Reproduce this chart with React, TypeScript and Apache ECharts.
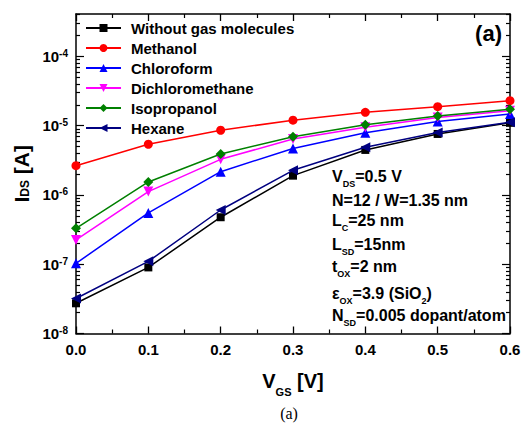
import { useEffect, useRef } from "react";
import * as echarts from "echarts";

const vgs = [0, 0.1, 0.2, 0.3, 0.4, 0.5, 0.6];
const withoutGas = [2.73e-8, 9.0e-8, 4.77e-7, 1.9e-6, 4.47e-6, 7.6e-6, 1.1e-5];
const methanol = [2.65e-6, 5.4e-6, 8.6e-6, 1.2e-5, 1.56e-5, 1.88e-5, 2.3e-5];
const chloroform = [1.03e-7, 5.5e-7, 2.17e-6, 4.7e-6, 7.9e-6, 1.15e-5, 1.48e-5];
const dichloromethane = [2.24e-7, 1.12e-6, 3.27e-6, 6.44e-6, 9.5e-6, 1.31e-5, 1.65e-5];
const isopropanol = [3.3e-7, 1.54e-6, 3.9e-6, 6.95e-6, 1.03e-5, 1.38e-5, 1.73e-5];
const hexane = [3.2e-8, 1.1e-7, 6.07e-7, 2.27e-6, 4.89e-6, 8.0e-6, 1.12e-5];

const seriesNames = [
  "Without gas molecules",
  "Methanol",
  "Chloroform",
  "Dichloromethane",
  "Isopropanol",
  "Hexane",
];
const seriesValues = [withoutGas, methanol, chloroform, dichloromethane, isopropanol, hexane];
const seriesColors = ["#000000", "#ff0000", "#0000ff", "#ff00ff", "#008000", "#000080"];
const seriesSymbols = ["rect", "circle", "triangle", "triangle", "diamond", "triangle"];
const seriesSymbolRotate = [0, 0, 0, 180, 0, 90];
const seriesSymbolSize = [8, 9, 10, 10, 10, 10];

const yMin = 1e-8;
const yMax = 4.1e-4;
const yMajorTicks = [1e-8, 1e-7, 1e-6, 1e-5, 1e-4];
const yMinorTicks: number[] = [];
for (let e = -8; e <= -4; e++) {
  for (let m = 2; m <= 9; m++) {
    const v = m * Math.pow(10, e);
    if (v < yMax) yMinorTicks.push(v);
  }
}

const annotationLines = [
  "{m|V}{s|DS}{m|=0.5 V}",
  "{m|N=12 / W=1.35 nm}",
  "{m|L}{s|C}{m|=25 nm}",
  "{m|L}{s|SD}{m|=15nm}",
  "{m|t}{s|OX}{m|=2 nm}",
  "{m|ε}{s|OX}{m|=3.9 (SiO}{s|2}{m|)}",
  "{m|N}{s|SD}{m|=0.005 dopant/atom}",
];
const annotationY = [176, 200.5, 220, 244.5, 266.5, 293, 315.5];

const FONT = "Liberation Sans, Arial, sans-serif";

export default function App() {
  const ref = useRef<HTMLDivElement>(null);
  useEffect(() => {
    if (!ref.current) return;
    const chart = echarts.init(ref.current, undefined, { renderer: "svg" });
    const axisLine = { show: true, lineStyle: { color: "#000", width: 1.5 } };
    const xAxisBase = {
      type: "value",
      min: 0,
      max: 0.6,
      interval: 0.1,
      axisLine,
      axisTick: { show: true, inside: true, length: 7, lineStyle: { color: "#000", width: 1.3 } },
      minorTick: { show: true, splitNumber: 2, length: 4, lineStyle: { color: "#000", width: 1.2 } },
      splitLine: { show: false },
    };
    const yAxisBase = (position: string, ticks: number[], len: number, showLine: boolean) => ({
      type: "log",
      position,
      min: yMin,
      max: yMax,
      axisLine: { ...axisLine, show: showLine },
      axisTick: {
        show: true,
        inside: true,
        length: len,
        customValues: ticks,
        lineStyle: { color: "#000", width: 1.2 },
      },
      axisLabel: { show: false },
      splitLine: { show: false },
      minorTick: { show: false },
    });
    const yMain: any = yAxisBase("left", yMajorTicks, 8, true);
    yMain.axisLabel = {
      show: true,
      customValues: yMajorTicks,
      margin: 8,
      formatter: (v: number) => `{b|10}{s|${Math.round(Math.log10(v))}}`,
      rich: {
        b: { fontFamily: FONT, fontSize: 15, fontWeight: "bold", color: "#000", lineHeight: 16 },
        s: {
          fontFamily: FONT,
          fontSize: 10,
          fontWeight: "bold",
          color: "#000",
          lineHeight: 10,
          verticalAlign: "top",
        },
      },
    };
    yMain.name = "{m|I}{s|DS}{m| [A]}";
    yMain.nameLocation = "middle";
    yMain.nameRotate = 90;
    yMain.nameGap = 43;
    yMain.nameTextStyle = {
      rich: {
        m: { fontFamily: FONT, fontSize: 21, fontWeight: "bold", color: "#000", lineHeight: 20 },
        s: {
          fontFamily: FONT,
          fontSize: 12,
          fontWeight: "bold",
          color: "#000",
          lineHeight: 11,
          verticalAlign: "bottom",
        },
      },
    };

    const xMain: any = {
      ...xAxisBase,
      position: "bottom",
      axisLabel: {
        show: true,
        margin: 8,
        fontFamily: FONT,
        fontSize: 15,
        fontWeight: "bold",
        color: "#000",
        formatter: (v: number) => v.toFixed(1),
      },
      name: "{m|V}{s|GS}{m| [V]}",
      nameLocation: "middle",
      nameGap: 30,
      nameTextStyle: {
        rich: {
          m: { fontFamily: FONT, fontSize: 20, fontWeight: "bold", color: "#000", lineHeight: 34 },
          s: {
            fontFamily: FONT,
            fontSize: 11,
            fontWeight: "bold",
            color: "#000",
            lineHeight: 11,
            verticalAlign: "bottom",
          },
        },
      },
    };
    const xTop: any = { ...xAxisBase, position: "top", axisLabel: { show: false } };

    const option: any = {
      animation: false,
      backgroundColor: "#fff",
      grid: { left: 76, right: 15, top: 14, bottom: 99.5, containLabel: false },
      xAxis: [xMain, xTop],
      yAxis: [
        yMain,
        yAxisBase("left", yMinorTicks, 4, false),
        yAxisBase("right", yMajorTicks, 8, true),
        yAxisBase("right", yMinorTicks, 4, false),
      ],
      legend: {
        orient: "vertical",
        left: 85,
        top: 20,
        padding: 0,
        itemWidth: 35,
        itemHeight: 10,
        itemGap: 4,
        textStyle: {
          fontFamily: FONT,
          fontSize: 15,
          fontWeight: "bold",
          color: "#000",
          lineHeight: 16,
          padding: [0, 0, 0, 5],
        },
        data: seriesNames,
      },
      series: seriesNames.map((name, i) => ({
        name,
        type: "line",
        xAxisIndex: 0,
        yAxisIndex: 0,
        data: vgs.map((x, j) => [x, seriesValues[i][j]]),
        symbol: seriesSymbols[i],
        symbolRotate: seriesSymbolRotate[i],
        symbolSize: seriesSymbolSize[i],
        itemStyle: { color: seriesColors[i] },
        lineStyle: { color: seriesColors[i], width: 1.5 },
        z: 2 + i,
      })),
      graphic: [
        {
          type: "text",
          right: 23,
          top: 22,
          style: {
            text: "(a)",
            fontFamily: FONT,
            fontSize: 22,
            fontWeight: "bold",
            fill: "#000",
          },
        },
        {
          type: "text",
          x: 289,
          y: 413,
          style: {
            text: "(a)",
            fontFamily: "Liberation Serif, Times New Roman, serif",
            fontSize: 16,
            fill: "#000",
            align: "center",
            verticalAlign: "middle",
          },
        },
        ...annotationLines.map((t, i) => ({
          type: "text",
          x: 332,
          y: annotationY[i],
          style: {
            text: t,
            verticalAlign: "middle",
            align: "left",
            rich: {
              m: { fontFamily: FONT, fontSize: 16, fontWeight: "bold", fill: "#000", lineHeight: 24 },
              s: {
                fontFamily: FONT,
                fontSize: 9,
                fontWeight: "bold",
                fill: "#000",
                lineHeight: 9,
                verticalAlign: "bottom",
              },
            },
          },
        })),
      ],
    };
    chart.setOption(option);
    return () => chart.dispose();
  }, []);
  return <div ref={ref} style={{ width: 525, height: 433, position: "absolute", left: 0, top: 0 }} />;
}
